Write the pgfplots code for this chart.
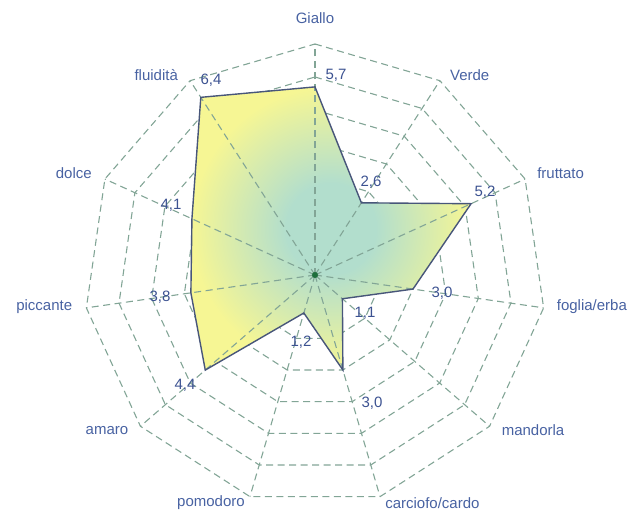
\documentclass[border=0pt]{standalone}
\usepackage{pgfplots}
\pgfplotsset{compat=1.18}
\usepgfplotslibrary{polar}
\usepackage{fontspec}
\setmainfont{Liberation Sans}
\definecolor{gridc}{RGB}{130,165,150}
\definecolor{linec}{RGB}{72,86,122}
\definecolor{txtc}{RGB}{72,98,162}
\definecolor{numc}{RGB}{60,82,145}
\definecolor{yel}{RGB}{246,246,148}
\definecolor{tealc}{RGB}{178,222,205}
\definecolor{dotc}{RGB}{30,110,60}
\pgfdeclareradialshading{radar}{\pgfpoint{0bp}{0bp}}{color(0bp)=(tealc); color(8bp)=(tealc); color(25bp)=(yel); color(50bp)=(yel)}
\begin{document}
\begin{tikzpicture}[font=\fontsize{15}{18}\selectfont]
\begin{polaraxis}[
  hide axis, scale only axis, width=462pt, height=462pt,
  ymin=0, ymax=7, xmin=0, xmax=360, clip=false,
]
% rings
\pgfplotsinvokeforeach{1,2,3,4,5,6,7}{
\addplot[gridc, line width=1.1pt, dash pattern=on 7pt off 4.5pt, mark=none] coordinates {
(90,#1) (57.27,#1) (24.55,#1) (351.82,#1) (319.09,#1) (286.36,#1) (253.64,#1) (220.91,#1) (188.18,#1) (155.45,#1) (122.73,#1) (90,#1)};
}
% filled area
\addplot[draw=none, shade, shading=radar, mark=none] coordinates {
(90,5.7) (57.27,2.6) (24.55,5.2) (351.82,3.0) (319.09,1.1) (286.36,3.0) (253.64,1.2) (220.91,4.4) (188.18,3.8) (155.45,4.1) (122.73,6.4) (90,5.7)};
% spokes
\pgfplotsinvokeforeach{90,57.27,24.55,351.82,319.09,286.36,253.64,220.91,188.18,155.45,122.73}{
\addplot[gridc, line width=1.1pt, dash pattern=on 7pt off 4.5pt, mark=none] coordinates {(#1,0) (#1,7)};
}
% outline
\addplot[linec, line width=1.4pt, mark=none, line join=miter] coordinates {
(90,5.7) (57.27,2.6) (24.55,5.2) (351.82,3.0) (319.09,1.1) (286.36,3.0) (253.64,1.2) (220.91,4.4) (188.18,3.8) (155.45,4.1) (122.73,6.4) (90,5.7)} -- cycle;
\addplot[only marks, mark=*, mark size=2.8pt, dotc] coordinates {(0,0)};
% category labels
\node[txtc, inner sep=0pt, anchor=center, yshift=26pt] at (axis cs:90,7) {Giallo};
\node[txtc, inner sep=0pt, anchor=west, xshift=10pt, yshift=6pt] at (axis cs:57.27,7) {Verde};
\node[txtc, inner sep=0pt, anchor=west, xshift=12pt, yshift=6pt] at (axis cs:24.55,7) {fruttato};
\node[txtc, inner sep=0pt, anchor=west, xshift=13pt, yshift=1pt] at (axis cs:351.82,7) {foglia/erba};
\node[txtc, inner sep=0pt, anchor=west, xshift=12pt, yshift=-4pt] at (axis cs:319.09,7) {mandorla};
\node[txtc, inner sep=0pt, anchor=west, xshift=5pt, yshift=-6pt] at (axis cs:286.36,7) {carciofo/cardo};
\node[txtc, inner sep=0pt, anchor=east, xshift=-5pt, yshift=-6pt] at (axis cs:253.64,7) {pomodoro};
\node[txtc, inner sep=0pt, anchor=east, xshift=-12pt, yshift=-4pt] at (axis cs:220.91,7) {amaro};
\node[txtc, inner sep=0pt, anchor=east, xshift=-14pt, yshift=1pt] at (axis cs:188.18,7) {piccante};
\node[txtc, inner sep=0pt, anchor=east, xshift=-13pt, yshift=6pt] at (axis cs:155.45,7) {dolce};
\node[txtc, inner sep=0pt, anchor=east, xshift=-12pt, yshift=6pt] at (axis cs:122.73,7) {fluidità};
% value labels
\node[numc, inner sep=0pt, xshift=21pt, yshift=200pt] at (axis cs:0,0) {5,7};
\node[numc, inner sep=0pt, xshift=-104pt, yshift=195pt] at (axis cs:0,0) {6,4};
\node[numc, inner sep=0pt, xshift=56pt, yshift=93pt] at (axis cs:0,0) {2,6};
\node[numc, inner sep=0pt, xshift=170pt, yshift=83pt] at (axis cs:0,0) {5,2};
\node[numc, inner sep=0pt, xshift=127pt, yshift=-18pt] at (axis cs:0,0) {3,0};
\node[numc, inner sep=0pt, xshift=50pt, yshift=-38pt] at (axis cs:0,0) {1,1};
\node[numc, inner sep=0pt, xshift=57pt, yshift=-128pt] at (axis cs:0,0) {3,0};
\node[numc, inner sep=0pt, xshift=-14pt, yshift=-67pt] at (axis cs:0,0) {1,2};
\node[numc, inner sep=0pt, xshift=-130pt, yshift=-110pt] at (axis cs:0,0) {4,4};
\node[numc, inner sep=0pt, xshift=-155pt, yshift=-22pt] at (axis cs:0,0) {3,8};
\node[numc, inner sep=0pt, xshift=-144pt, yshift=70pt] at (axis cs:0,0) {4,1};
% bounding box
\path (axis cs:0,0) ++(-315pt,275pt) rectangle ++(639pt,-513pt);
\end{polaraxis}
\end{tikzpicture}
\end{document}
